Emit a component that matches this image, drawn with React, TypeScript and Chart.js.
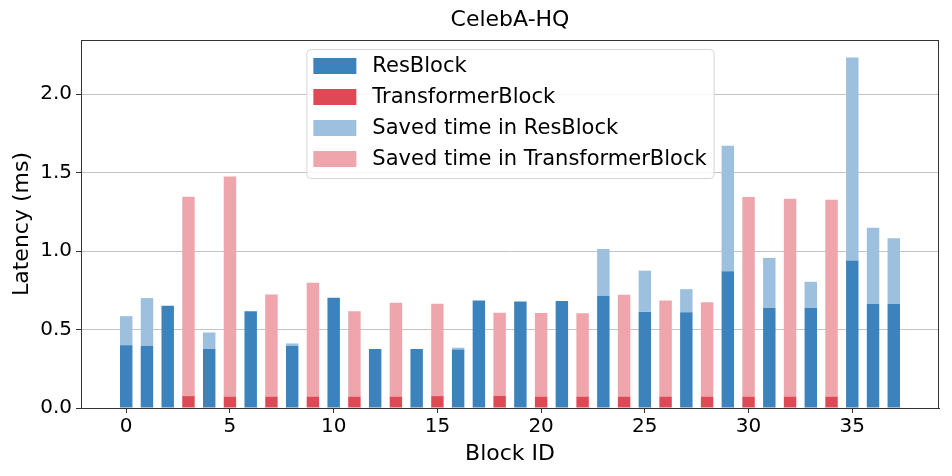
import React, { useEffect, useRef } from "react";
import { Chart, registerables } from "chart.js";

Chart.register(...registerables);

const resIds = [0, 1, 2, 4, 6, 8, 10, 12, 14, 16, 17, 19, 21, 23, 25, 27, 29, 31, 33, 35, 36, 37];
const resBase = [0.40, 0.395, 0.652, 0.376, 0.616, 0.396, 0.702, 0.376, 0.376, 0.373, 0.685, 0.678, 0.681, 0.715, 0.612, 0.610, 0.871, 0.637, 0.639, 0.939, 0.662, 0.662];
const resSaved = [0.185, 0.305, 0.0, 0.105, 0.0, 0.015, 0.0, 0.0, 0.0, 0.011, 0.0, 0.0, 0.0, 0.298, 0.263, 0.147, 0.800, 0.319, 0.165, 1.293, 0.486, 0.420];
const trIds = [3, 5, 7, 9, 11, 13, 15, 18, 20, 22, 24, 26, 28, 30, 32, 34];
const trBase = [0.076, 0.073, 0.073, 0.073, 0.073, 0.073, 0.076, 0.078, 0.073, 0.073, 0.073, 0.073, 0.073, 0.073, 0.073, 0.073];
const trSaved = [1.269, 1.401, 0.650, 0.724, 0.543, 0.598, 0.588, 0.529, 0.532, 0.530, 0.648, 0.612, 0.600, 1.271, 1.260, 1.254];
const xTicks = [0, 5, 10, 15, 20, 25, 30, 35];
const yTicks = [0, 0.5, 1.0, 1.5, 2.0];

const FONT = "'DejaVu Sans', sans-serif";
const C_RES = "#3c83bd";
const C_TR = "#dd4a56";
const C_RES_S = "#9dc0de";
const C_TR_S = "#eea5ab";

const pts = (ids: number[], vals: number[]) => ids.map((x, i) => ({ x, y: vals[i] }));

const framePlugin = {
  id: "frameAndExtras",
  afterDraw(chart: any) {
    const { ctx, chartArea } = chart;
    const { left, right, top, bottom } = chartArea;
    ctx.save();
    ctx.strokeStyle = "#333";
    ctx.lineWidth = 1;
    ctx.strokeRect(left + 0.5, top + 0.5, right - left - 1, bottom - top);
    ctx.fillStyle = "#000";
    ctx.font = `22px ${FONT}`;
    ctx.textAlign = "center";
    ctx.textBaseline = "middle";
    ctx.fillText("CelebA-HQ", (left + right) / 2, 20);
    const items = chart.data.datasets.map((d: any) => ({ label: d.label, color: d.backgroundColor }));
    ctx.font = `21px ${FONT}`;
    const maxW = Math.max(...items.map((it: any) => ctx.measureText(it.label).width));
    const pad = 7, swW = 43, swH = 16, gap = 16, rowH = 31;
    const boxW = pad + swW + gap + maxW + pad;
    const boxH = rowH * items.length + 5;
    const bx = (left + right) / 2 - boxW / 2;
    const by = top + 9;
    ctx.beginPath();
    if (ctx.roundRect) ctx.roundRect(bx + 0.5, by + 0.5, boxW, boxH, 4);
    else ctx.rect(bx + 0.5, by + 0.5, boxW, boxH);
    ctx.fillStyle = "rgba(255,255,255,0.85)";
    ctx.fill();
    ctx.strokeStyle = "#d6d6d6";
    ctx.stroke();
    items.forEach((it: any, i: number) => {
      const cy = by + 17 + i * rowH;
      ctx.fillStyle = it.color;
      ctx.fillRect(bx + pad, cy - swH / 2, swW, swH);
      ctx.fillStyle = "#000";
      ctx.textAlign = "left";
      ctx.textBaseline = "middle";
      ctx.fillText(it.label, bx + pad + swW + gap, cy + 1);
    });
    ctx.restore();
  },
};

export default function App() {
  const ref = useRef<HTMLCanvasElement>(null);
  useEffect(() => {
    document.body.style.margin = "0";
    const chart = new Chart(ref.current!, {
      type: "bar",
      data: {
        datasets: [
          { label: "ResBlock", data: pts(resIds, resBase), backgroundColor: C_RES },
          { label: "TransformerBlock", data: pts(trIds, trBase), backgroundColor: C_TR },
          { label: "Saved time in ResBlock", data: pts(resIds, resSaved), backgroundColor: C_RES_S },
          { label: "Saved time in TransformerBlock", data: pts(trIds, trSaved), backgroundColor: C_TR_S },
        ],
      },
      options: {
        animation: false,
        responsive: false,
        devicePixelRatio: 1,
        layout: { padding: { top: 40, right: 13, left: 0, bottom: 0 } },
        datasets: { bar: { barPercentage: 0.6, categoryPercentage: 1.0 } },
        plugins: { legend: { display: false }, tooltip: { enabled: false }, title: { display: false } },
        scales: {
          x: {
            type: "linear",
            stacked: true,
            min: -2.18,
            max: 39.18,
            offset: false,
            afterBuildTicks: (s: any) => { s.ticks = xTicks.map((v) => ({ value: v })); },
            afterFit: (s: any) => { s.height = 68; },
            grid: { offset: false, drawOnChartArea: false, drawTicks: true, tickLength: 5, tickColor: "#333" },
            border: { display: true, color: "#333" },
            ticks: { color: "#000", font: { family: FONT, size: 20 }, padding: 2, maxRotation: 0, autoSkip: false },
            title: { display: true, text: "Block ID", color: "#000", font: { family: FONT, size: 22 }, padding: { top: 0, bottom: 9 } },
          },
          y: {
            stacked: true,
            min: 0,
            max: 2.344,
            afterBuildTicks: (s: any) => { s.ticks = yTicks.map((v) => ({ value: v })); },
            afterFit: (s: any) => { s.width = 81; },
            grid: { color: "#c4c4c4", lineWidth: 1, drawTicks: true, tickLength: 5, tickColor: "#333" },
            border: { display: true, color: "#333" },
            ticks: { color: "#000", font: { family: FONT, size: 20 }, padding: 4, callback: (v: any) => Number(v).toFixed(1) },
            title: { display: true, text: "Latency (ms)", color: "#000", font: { family: FONT, size: 22 }, padding: { top: 9, bottom: 0 } },
          },
        },
      },
      plugins: [framePlugin],
    } as any);
    return () => chart.destroy();
  }, []);
  return (
    <div style={{ width: 952, height: 476 }}>
      <canvas ref={ref} width={952} height={476} />
    </div>
  );
}
